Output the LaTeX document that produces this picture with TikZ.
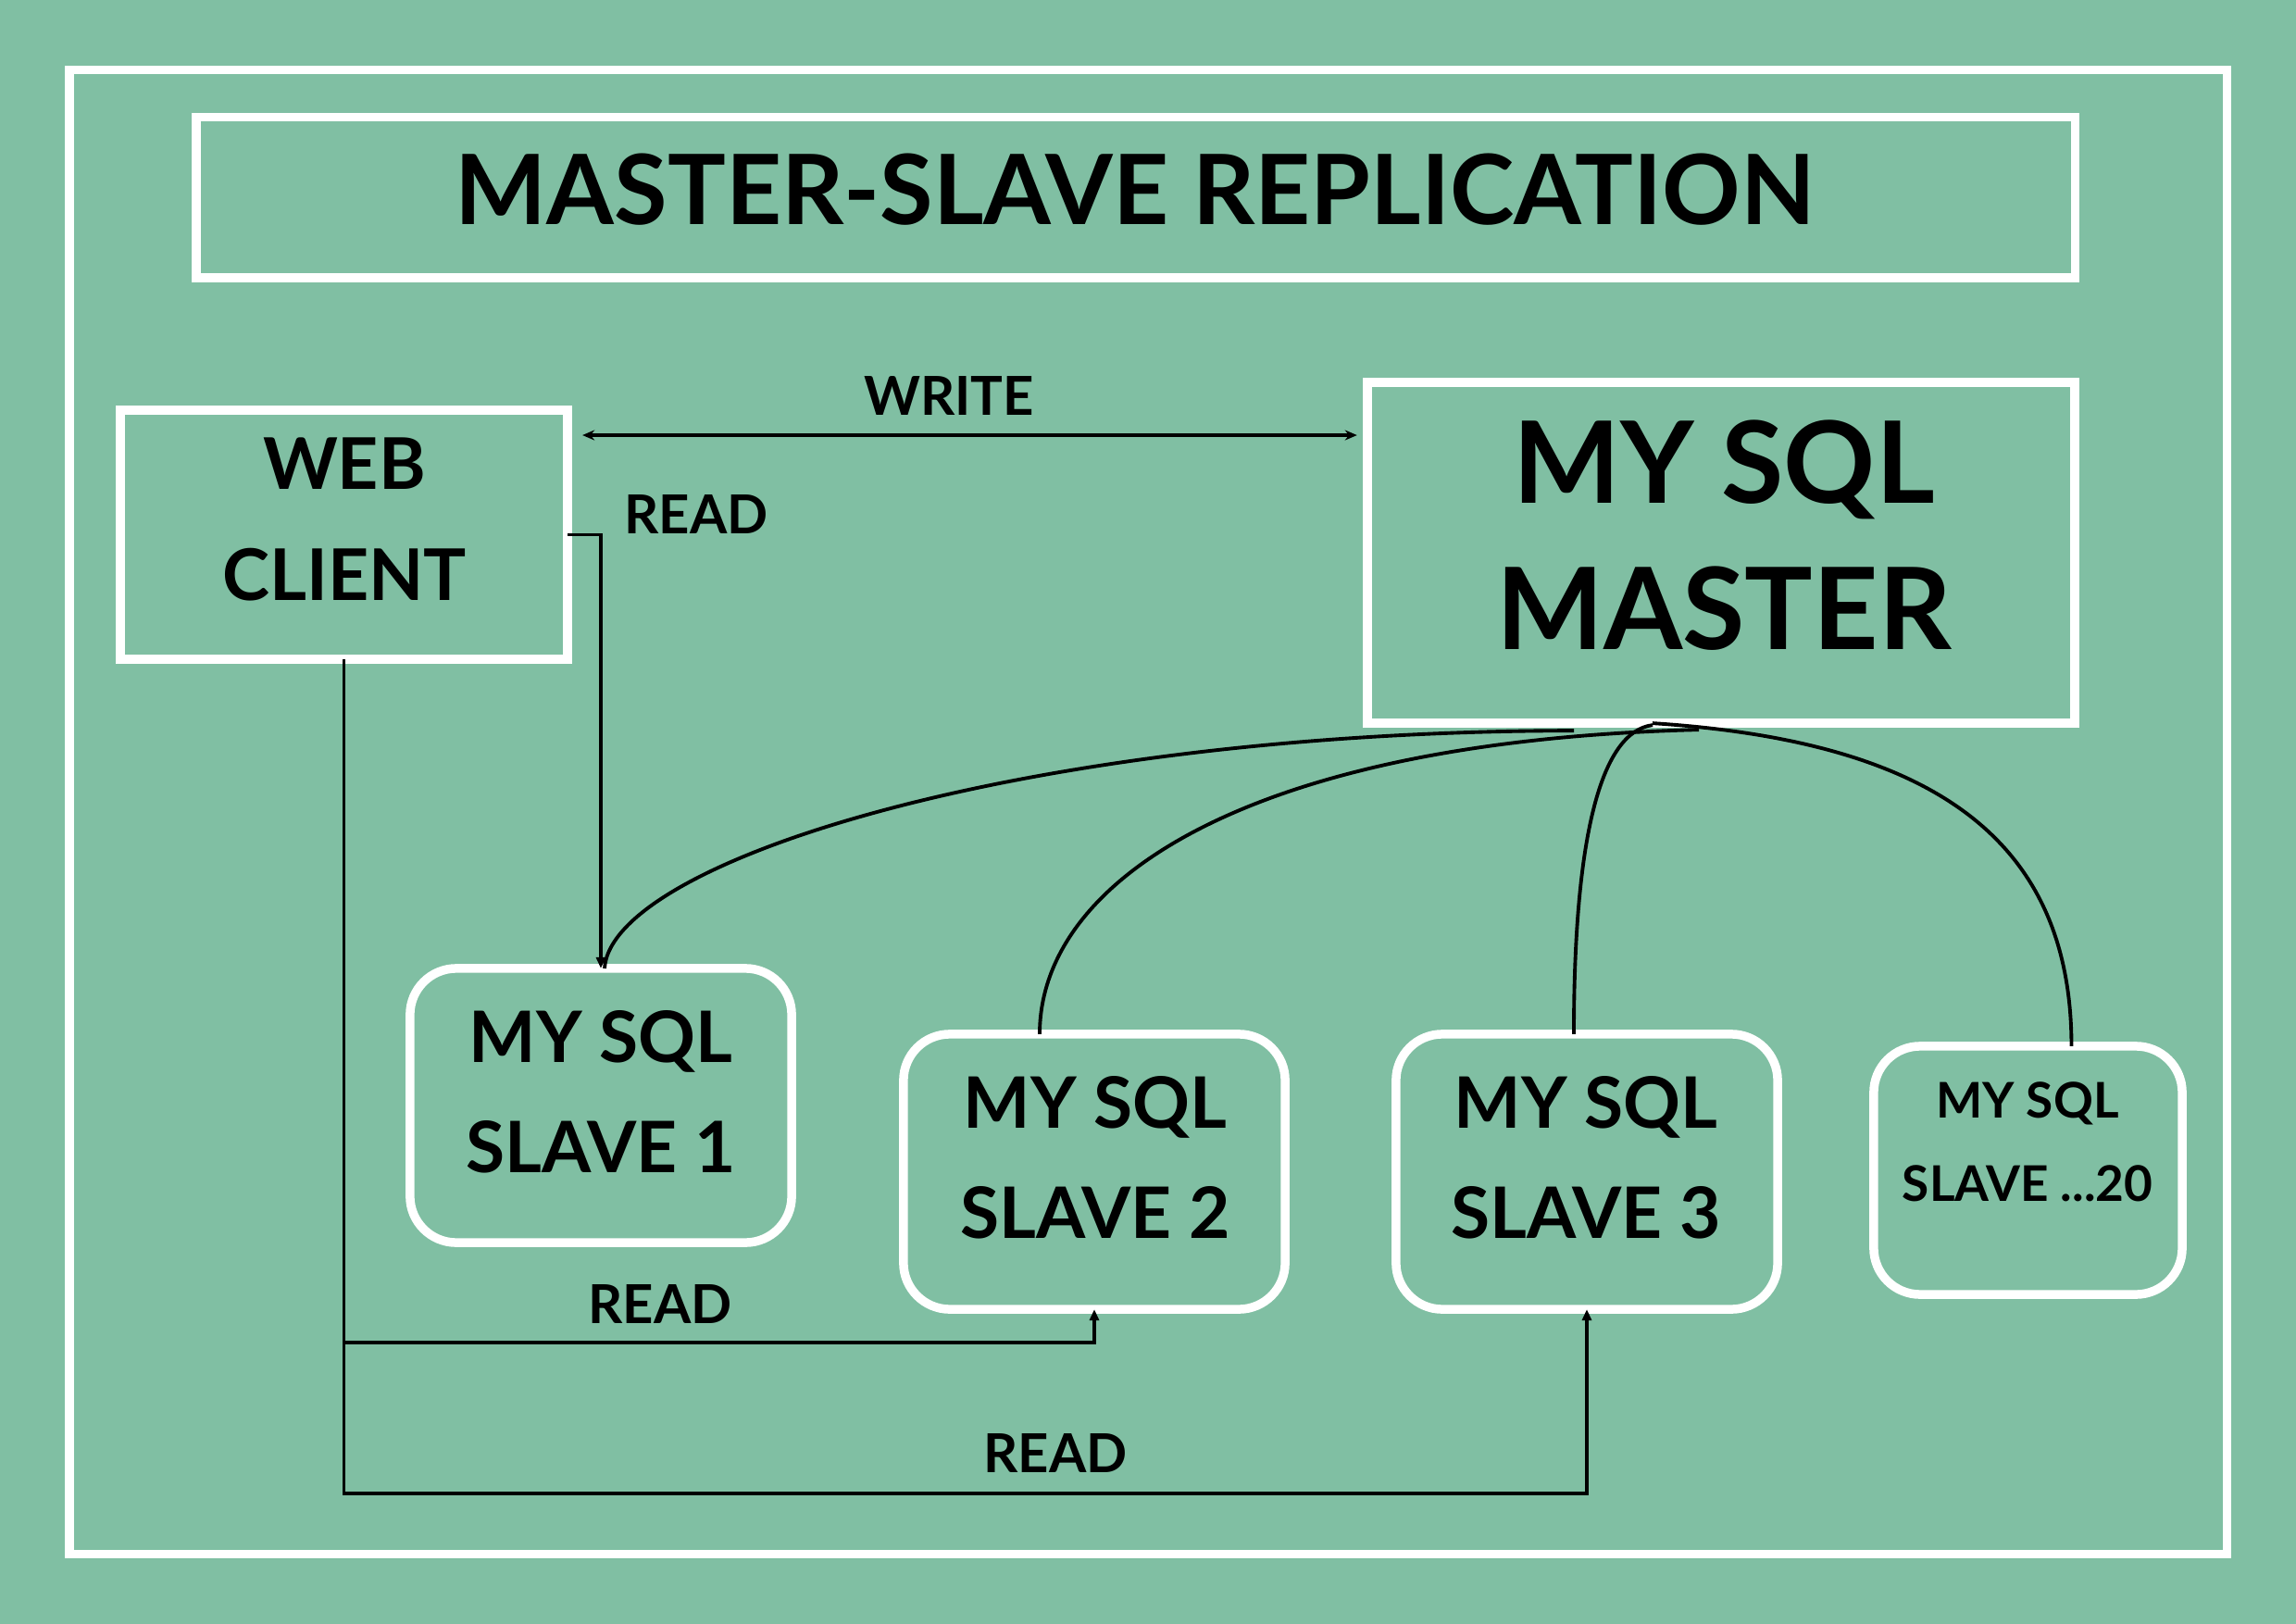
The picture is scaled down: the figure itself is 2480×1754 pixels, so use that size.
\documentclass[tikz,border=0pt]{standalone}
\usepackage{fontspec}
\setmainfont{Lato}
\usetikzlibrary{arrows.meta,calc}
\definecolor{bg}{HTML}{80BFA3}
\begin{document}
\begin{tikzpicture}[x=0.01cm,y=-0.01cm,
  frm/.style={draw=white,line width=2.7pt,outer sep=0pt,inner sep=0pt},
  rbox/.style={frm,rounded corners=0.5cm},
  conn/.style={line width=0.9pt,draw=black},
  curv/.style={line width=1.1pt,draw=black},
  tipa/.style={-{Triangle[length=0.12cm,width=0.1cm]}},
  tipb/.style={{Stealth[length=0.13cm,width=0.11cm]}-{Stealth[length=0.13cm,width=0.11cm]}},
  txt/.style={anchor=base,inner sep=0pt,font=\bfseries},
  ttl/.style={txt,font=\bfseries\fontsize{29.8pt}{30pt}\selectfont},
  wcf/.style={txt,font=\bfseries\fontsize{21.9pt}{22pt}\selectfont},
  msf/.style={txt,font=\bfseries\fontsize{34.9pt}{35pt}\selectfont},
  slf/.style={txt,font=\bfseries\fontsize{21.8pt}{22pt}\selectfont},
  smf/.style={txt,font=\bfseries\fontsize{15.1pt}{15pt}\selectfont},
  lbl/.style={txt,font=\bfseries\fontsize{16.5pt}{17pt}\selectfont}
]
\fill[bg] (0,0) rectangle (2480,1754);
\useasboundingbox (0,0) rectangle (2480,1754);

% frames and boxes
\node[frm,minimum width=23.295cm,minimum height=16.02cm] (frame) at (1240.25,877) {};
\node[frm,minimum width=20.285cm,minimum height=1.735cm] (title) at (1226.75,213.25) {};
\node[frm,minimum width=4.83cm,minimum height=2.69cm] (wc) at (371.5,577.5) {};
\node[frm,minimum width=7.64cm,minimum height=3.68cm] (m) at (1859,597) {};
\node[rbox,minimum width=4.12cm,minimum height=2.96cm] (s1) at (649,1194) {};
\node[rbox,minimum width=4.12cm,minimum height=2.97cm] (s2) at (1182,1265.5) {};
\node[rbox,minimum width=4.12cm,minimum height=2.97cm] (s3) at (1714,1265.5) {};
\node[rbox,minimum width=3.33cm,minimum height=2.68cm] (s20) at (2190.5,1264) {};

% texts
\node[ttl] (ttxt) at (1226,242) {MASTER-SLAVE REPLICATION};
\node[wcf] (wc1) at (372,528) {WEB};
\node[wcf] (wc2) at (372,648) {CLIENT};
\node[msf] (m1) at (1862,543) {MY SQL};
\node[msf] (m2) at (1862,701) {MASTER};
\node[slf] (s1a) at (649,1147) {MY SQL};
\node[slf] (s1b) at (649,1266) {SLAVE 1};
\node[slf] (s2a) at (1183,1218) {MY SQL};
\node[slf] (s2b) at (1183,1337) {SLAVE 2};
\node[slf] (s3a) at (1713,1218) {MY SQL};
\node[slf] (s3b) at (1713,1337) {SLAVE 3};
\node[smf] (s20a) at (2190,1207) {MY SQL};
\node[smf] (s20b) at (2190,1297) {SLAVE ...20};
\node[lbl] (lw) at (1025,448) {WRITE};
\node[lbl] (lr1) at (752,576) {READ};
\node[lbl] (lr2) at (713,1429) {READ};
\node[lbl] (lr3) at (1140,1590) {READ};

% connectors
\coordinate (wa) at ($(wc.east|-0,470)+(16,0)$);
\coordinate (wb) at ($(m.west|-0,470)+(-11,0)$);
\draw[conn,tipb] (wa) -- (wb);
\draw[conn,tipa] (wc.east) -| (s1.north);
\coordinate (r2) at (s2.south|-0,1450);
\coordinate (r3) at (s3.south|-0,1613);
\draw[conn,tipa] (wc.south) |- (r2) -- (s2.south);
\draw[conn,tipa] (wc.south) |- (r3) -- (s3.south);

% replication curves
\draw[curv] ($(s1.north)+(4,0)$) .. controls +(7,-114) and +(-600,1) .. ($(m.south)+(-159,8)$);
\draw[curv] ($(s2.north)+(-59,0)$) .. controls +(0,-167) and +(-485,12) .. ($(m.south)+(-24,7)$);
\draw[curv] ($(s3.north)+(-14,0)$) .. controls +(0,-217) and +(-55,7) .. ($(m.south)+(-74,2)$);
\draw[curv] ($(s20.north)+(47,0)$) .. controls +(0,-229) and +(295,19) .. ($(m.south)+(-74,0)$);
\end{tikzpicture}
\end{document}
